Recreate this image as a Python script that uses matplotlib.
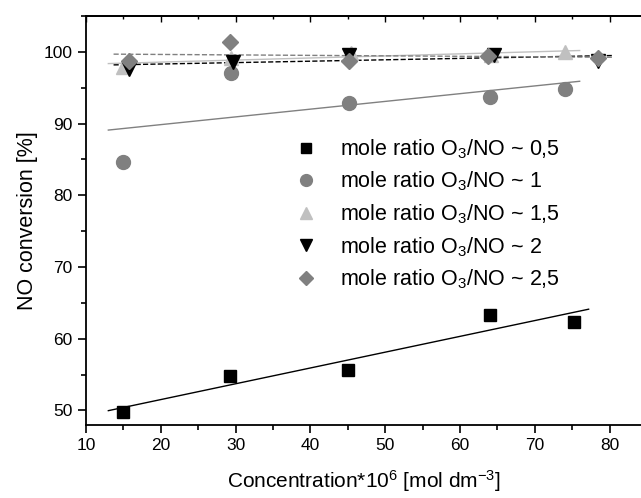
import matplotlib
matplotlib.use('Agg')
import matplotlib.pyplot as plt
import numpy as np
from matplotlib.ticker import MultipleLocator

plt.rcParams['font.family'] = ['Liberation Sans', 'DejaVu Sans']
plt.rcParams['mathtext.fontset'] = 'custom'
plt.rcParams['mathtext.rm'] = 'Liberation Sans'
plt.rcParams['mathtext.it'] = 'Liberation Sans:italic'

# Data
labels = ['0,5', '1', '1,5', '2', '2,5']
x_r05 = [15.0, 29.3, 45.1, 64.0, 75.2]
y_r05 = [49.8, 54.8, 55.6, 63.3, 62.4]
x_r1 = [15.0, 29.4, 45.2, 64.0, 74.0]
y_r1 = [84.7, 97.0, 92.8, 93.7, 94.8]
x_r15 = [15.0, 29.4, 45.4, 64.2, 74.0]
y_r15 = [97.9, 99.2, 99.9, 99.5, 100.0]
x_r2 = [15.7, 29.6, 45.2, 64.5, 78.4]
y_r2 = [97.6, 98.6, 99.6, 99.6, 98.7]
x_r25 = [15.7, 29.3, 45.2, 63.8, 78.4]
y_r25 = [98.7, 101.3, 98.7, 99.4, 99.2]

fig = plt.figure(figsize=(6.41, 4.98), dpi=100)
ax = fig.add_axes([0.134, 0.147, 0.866, 0.821])

series = [
    (x_r05, y_r05, 's', 'black', '-'),
    (x_r1, y_r1, 'o', '#808080', '-'),
    (x_r15, y_r15, '^', '#c0c0c0', '-'),
    (x_r2, y_r2, 'v', 'black', '--'),
    (x_r25, y_r25, 'D', '#808080', '--'),
]
ms = {'s': 9, 'o': 10, '^': 10, 'v': 10, 'D': 8.5}
for (xs, ys, m, c, ls), lab in zip(series, labels):
    xs = np.array(xs)
    ys = np.array(ys)
    k, b = np.polyfit(xs, ys, 1)
    xf = np.array([xs.min() - 2, xs.max() + 2])
    ax.plot(xf, k * xf + b, ls=ls, color=c, lw=1.0, zorder=2)
    ax.plot(xs, ys, m, color=c, markersize=ms[m], ls='none', zorder=3,
            label='mole ratio O$_3$/NO ~ ' + lab)

ax.set_xlim(10, 84.2)
ax.set_ylim(48, 105)
ax.xaxis.set_major_locator(MultipleLocator(10))
ax.xaxis.set_minor_locator(MultipleLocator(5))
ax.yaxis.set_major_locator(MultipleLocator(10))
ax.yaxis.set_minor_locator(MultipleLocator(5))
ax.tick_params(which='both', direction='out', labelsize=12.5, width=1.2)
ax.tick_params(which='major', length=6)
ax.tick_params(which='minor', length=3.5)
ax.tick_params(which='both', top=False, right=False)
for s in ax.spines.values():
    s.set_linewidth(1.3)
ax.spines['right'].set_visible(False)

# small inward ticks along the top edge
axt = ax.secondary_xaxis('top')
axt.xaxis.set_major_locator(MultipleLocator(10))
axt.xaxis.set_minor_locator(MultipleLocator(5))
axt.tick_params(which='both', direction='in', labeltop=False, width=1.0)
axt.tick_params(which='major', length=4)
axt.tick_params(which='minor', length=2.5)
axt.spines['top'].set_linewidth(1.3)

ax.set_xlabel('Concentration*10$^6$ [mol dm$^{-3}$]', fontsize=15,
              labelpad=11)
ax.set_ylabel('NO conversion [%]', fontsize=15.5, labelpad=4)

leg = ax.legend(loc='upper left', bbox_to_anchor=(0.348, 0.73),
                frameon=False, fontsize=15.5, handletextpad=0.85,
                labelspacing=0.42, handlelength=1.5, borderpad=0,
                markerscale=0.85)

fig.savefig('out.png', dpi=100)
